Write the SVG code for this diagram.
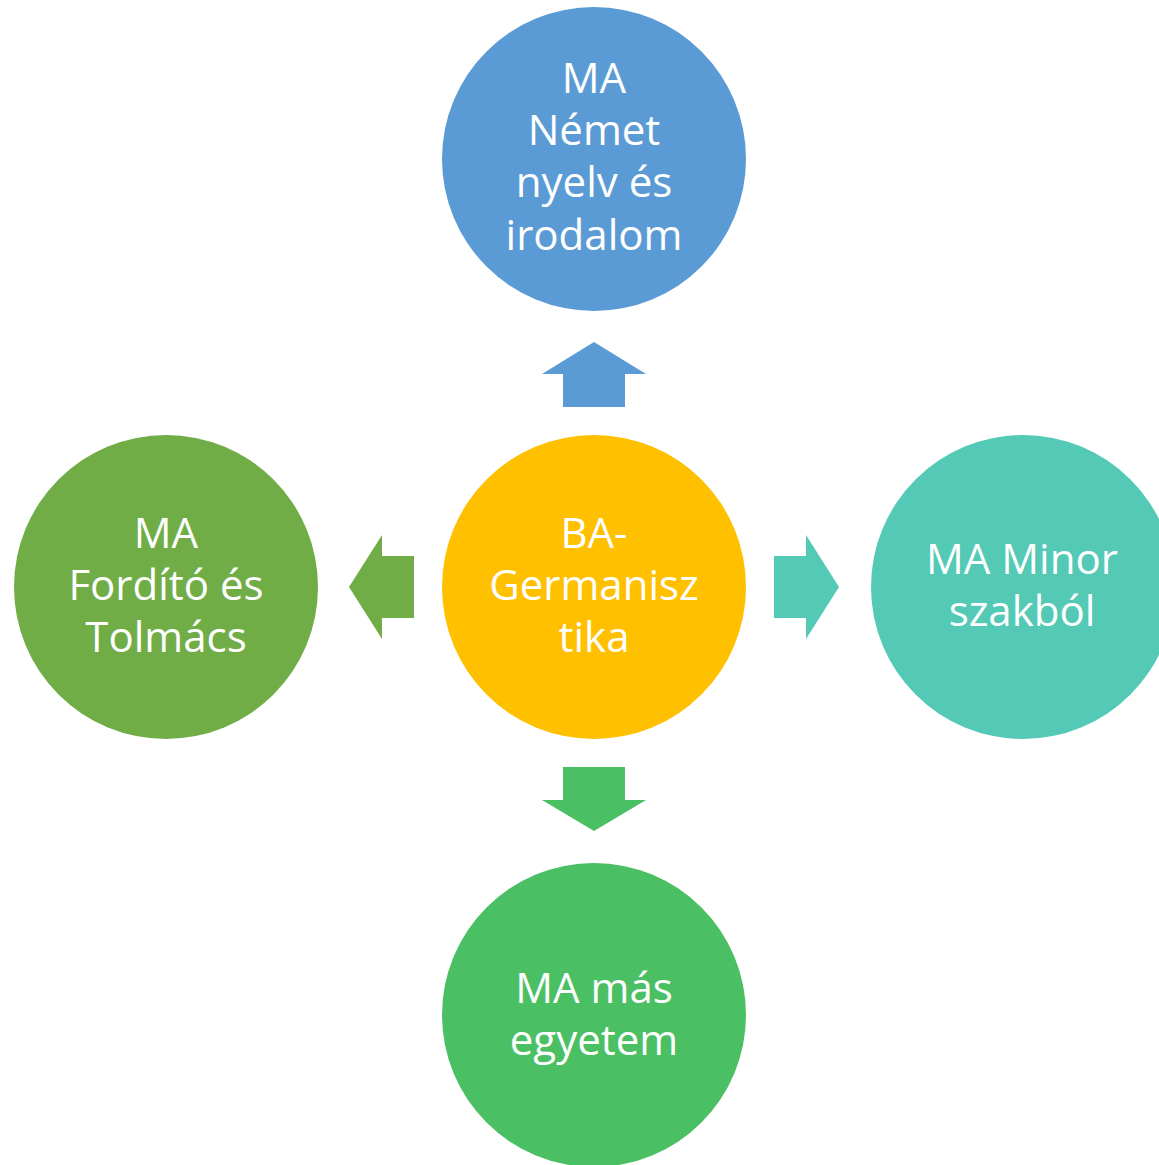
<svg xmlns="http://www.w3.org/2000/svg" width="1159" height="1165" viewBox="0 0 1159 1165">
<style>
text{font-family:"Open Sans","Liberation Sans",sans-serif;font-size:42px;fill:#ffffff;text-anchor:middle}
</style>
<rect width="1159" height="1165" fill="#ffffff"/>
<g id="connectors">
<polygon points="594,342 646,374 625,374 625,407 563,407 563,374 542,374" fill="#5B9BD5"/>
<polygon points="563,767 625,767 625,800 646,800 594,831 542,800 563,800" fill="#4BBF63"/>
<polygon points="349,587 382,535 382,556 414,556 414,618 382,618 382,639" fill="#70AD47"/>
<polygon points="774,556 806,556 806,535 839,587 806,639 806,618 774,618" fill="#53C9B6"/>
</g>
<g id="node-top">
<circle cx="594" cy="159" r="152" fill="#5B9BD5"/>
<text x="594" y="93">MA</text>
<text x="594" y="145">Német</text>
<text x="594" y="197">nyelv és</text>
<text x="594" y="250">irodalom</text>
</g>
<g id="node-center">
<circle cx="594" cy="587" r="152" fill="#FFC000"/>
<text x="594" y="548">BA-</text>
<text x="594" y="600">Germanisz</text>
<text x="594" y="652">tika</text>
</g>
<g id="node-left">
<circle cx="166" cy="587" r="152" fill="#70AD47"/>
<text x="166" y="548">MA</text>
<text x="166" y="600">Fordító és</text>
<text x="166" y="652">Tolmács</text>
</g>
<g id="node-right">
<circle cx="1023" cy="587" r="152" fill="#53C9B6"/>
<text x="1022" y="574">MA Minor</text>
<text x="1022" y="626">szakból</text>
</g>
<g id="node-bottom">
<circle cx="594" cy="1015" r="152" fill="#4BBF63"/>
<text x="594" y="1003">MA más</text>
<text x="594" y="1055">egyetem</text>
</g>
</svg>
